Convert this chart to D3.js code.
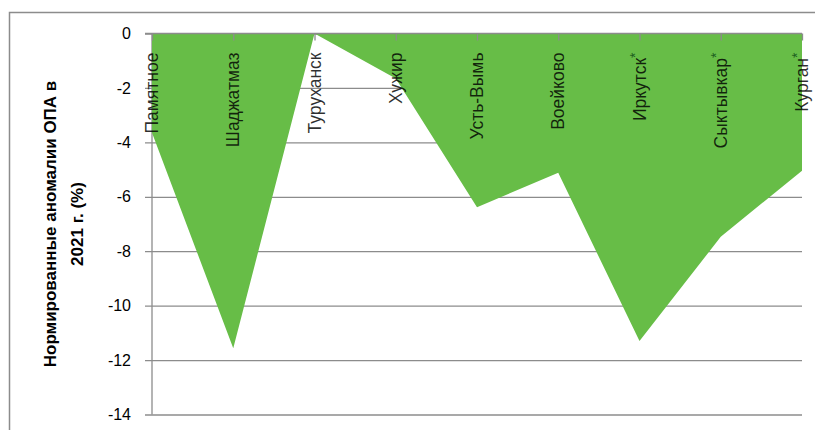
<!DOCTYPE html>
<html>
<head>
<meta charset="utf-8">
<script src="https://cdn.jsdelivr.net/npm/d3@7"></script>
<style>
  html, body { margin: 0; padding: 0; background: #fff; }
  svg { display: block; }
</style>
</head>
<body>
<svg id="chart" width="815" height="430"></svg>
<script>
// ---- data ----
const categories = ["Памятное", "Шаджатмаз", "Туруханск", "Хужир", "Усть-Вымь", "Воейково", "Иркутск", "Сыктывкар", "Курган"];
const starred = [false, false, false, false, false, false, true, true, true];
const values = [-3.65, -11.57, 0, -1.65, -6.38, -5.12, -11.3, -7.47, -5.04];
const yTicks = [0, -2, -4, -6, -8, -10, -12, -14];
const yTitleLines = ["Нормированные аномалии ОПА в", "2021 г. (%)"];

// ---- layout ----
const W = 815, H = 430;
const plot = { left: 152, right: 802, top: 33.5, bottom: 414.5 };
const FONT = "'Liberation Sans', Arial, sans-serif";

const svg = d3.select("#chart");

// outer chart frame (clipped by window on right/bottom)
svg.append("rect")
  .attr("x", 9.5).attr("y", 12.5)
  .attr("width", 900).attr("height", 600)
  .attr("fill", "#fff")
  .attr("stroke", "#8c8c8c").attr("stroke-width", 1.5);

const x = d3.scalePoint().domain(categories).range([plot.left, plot.right]);
const y = d3.scaleLinear().domain([-14, 0]).range([plot.bottom, plot.top]);

// gridlines + y ticks
const yAxis = d3.axisLeft(y)
  .tickValues(yTicks)
  .tickSizeInner(-(plot.right - plot.left))
  .tickSizeOuter(0)
  .tickFormat(d => d === 0 ? "0" : "-" + Math.abs(d));

const gy = svg.append("g")
  .attr("transform", `translate(${plot.left},0)`)
  .call(yAxis);
gy.select(".domain").remove();
gy.selectAll(".tick line")
  .attr("x1", -7)
  .attr("stroke", "#8c8c8c").attr("stroke-width", 1.3);
gy.selectAll(".tick text")
  .attr("x", -21)
  .attr("font-family", FONT).attr("font-size", 16).attr("fill", "#000");

// vertical axis line
svg.append("line")
  .attr("x1", plot.left).attr("x2", plot.left)
  .attr("y1", plot.top).attr("y2", plot.bottom)
  .attr("stroke", "#8c8c8c").attr("stroke-width", 1.3);

// area
const data = categories.map((c, i) => ({ c, v: values[i] }));
const area = d3.area()
  .x(d => x(d.c))
  .y0(y(0))
  .y1(d => y(d.v));
svg.append("path")
  .datum(data)
  .attr("d", area)
  .attr("fill", "#67bd47");

// category axis at y = 0 (top)
const xAxis = d3.axisBottom(x).tickSizeInner(7).tickSizeOuter(0).tickFormat("");
const gx = svg.append("g")
  .attr("transform", `translate(0,${y(0)})`)
  .call(xAxis);
gx.select(".domain").attr("stroke", "#8c8c8c").attr("stroke-width", 1.3)
  .attr("d", `M${plot.left - 7},0H${plot.right}`);
gx.selectAll(".tick line").attr("stroke", "#8c8c8c").attr("stroke-width", 1.3);

// category labels, rotated
const labels = svg.append("g");
categories.forEach((c, i) => {
  const t = labels.append("text")
    .attr("transform", `translate(${x(c) + 6},${y(0) + 19}) rotate(-90)`)
    .attr("text-anchor", "end")
    .attr("font-family", FONT).attr("font-size", 17.5)
    .attr("fill", "#000").attr("fill-opacity", 0.82);
  t.append("tspan").text(c);
  if (starred[i]) {
    t.append("tspan").attr("dy", -6).attr("font-size", 14)
      .attr("fill", "#0a4a14").text("*");
  }
});

// y title
const title = svg.append("text")
  .attr("transform", `translate(0,224) rotate(-90)`)
  .attr("text-anchor", "middle")
  .attr("font-family", FONT).attr("font-size", 17).attr("font-weight", "bold")
  .attr("fill", "#000");
yTitleLines.forEach((line, i) => {
  title.append("tspan")
    .attr("x", 0)
    .attr("y", 56 + i * 27)
    .text(line);
});
</script>
</body>
</html>
